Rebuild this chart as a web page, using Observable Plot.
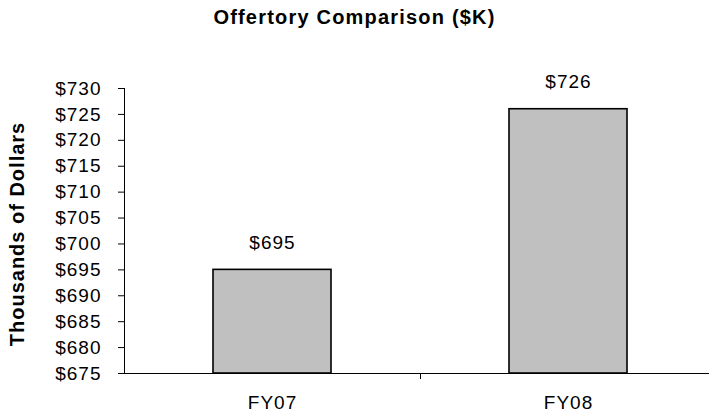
<!DOCTYPE html>
<html>
<head>
<meta charset="utf-8">
<script src="https://cdn.jsdelivr.net/npm/d3@7"></script>
<script src="https://cdn.jsdelivr.net/npm/@observablehq/plot@0.6"></script>
<style>
  body { margin: 0; background: #fff; font-family: "Liberation Sans", Arial, sans-serif; }
  #title { width: 709px; height: 34px; line-height: 34px; text-align: center; font-weight: bold; font-size: 20px; letter-spacing: 1.2px; }
</style>
</head>
<body>
<div id="title">Offertory Comparison ($K)</div>
<div id="chart"></div>
<script>
const categories = ["FY07", "FY08"];
const values = [695, 726];
const yTicks = [675, 680, 685, 690, 695, 700, 705, 710, 715, 720, 725, 730];

const data = categories.map((c, i) => ({cat: c, value: values[i]}));

const width = 709, marginLeft = 124, marginRight = -7;
const halfStep = (width - marginLeft - marginRight) / categories.length / 2;

const chart = Plot.plot({
  width,
  height: 380,
  marginLeft,
  marginRight,
  marginTop: 54,
  marginBottom: 41,
  style: {fontFamily: "Liberation Sans, Arial, sans-serif", fontSize: "19px", letterSpacing: "1px", color: "#000", background: "#fff", overflow: "visible"},
  x: {domain: categories, paddingInner: 0.6, paddingOuter: 0.3, label: null, tickSize: 0, tickPadding: 22},
  y: {domain: [675, 730], ticks: yTicks, tickFormat: d => "$" + d, tickSize: 6, tickPadding: 17, label: null, line: true},
  marks: [
    Plot.barY(data, {x: "cat", y1: 675, y2: "value", fill: "#c0c0c0", stroke: "#000", strokeWidth: 1.6}),
    Plot.ruleY([675], {stroke: "#000", strokeWidth: 1.2}),
    Plot.ruleX(categories.slice(0, -1), {x: d => d, dx: halfStep, y1: 675, y2: 675, insetBottom: -6, stroke: "#000"}),
    Plot.text(data, {x: "cat", y: "value", text: d => "$" + d.value, dy: -27, fontSize: 19}),
    Plot.text(["Thousands of Dollars"], {frameAnchor: "left", textAnchor: "middle", dx: -107, dy: 3, rotate: -90, fontWeight: "bold", fontSize: 20, text: d => d})
  ]
});
document.getElementById("chart").appendChild(chart);
</script>
</body>
</html>
